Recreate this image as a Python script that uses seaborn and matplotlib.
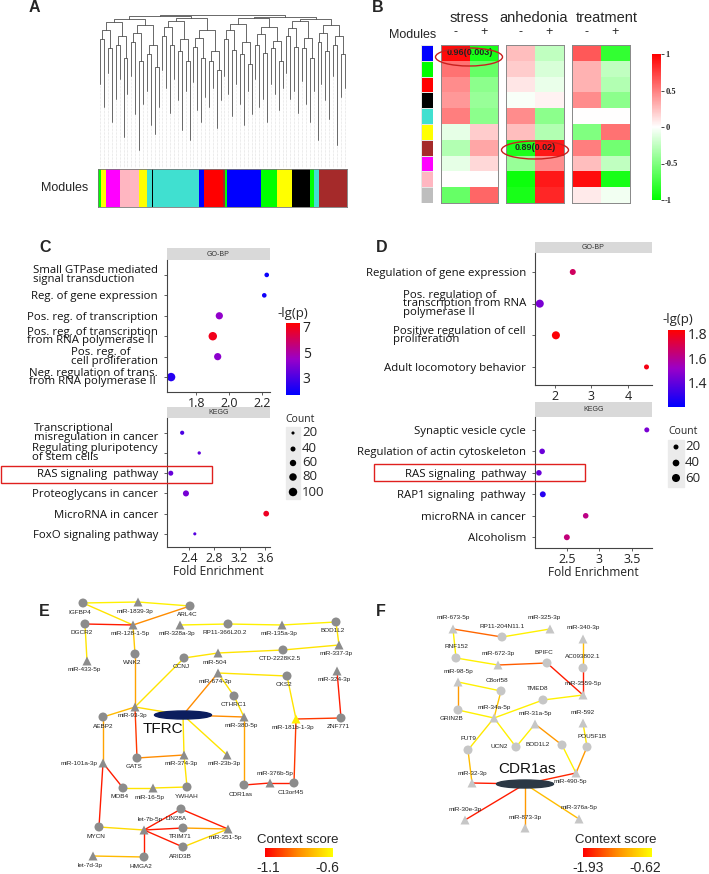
import numpy as np
import pandas as pd
import seaborn as sns
import matplotlib.pyplot as plt
from matplotlib.colors import ListedColormap, LinearSegmentedColormap, Normalize
from matplotlib.patches import Ellipse, Rectangle
from matplotlib.cm import ScalarMappable

sns.set_theme(style="white")
plt.rcParams['font.family'] = ['Liberation Sans', 'DejaVu Sans']

# ---------------- A: gene dendrogram + module colours ----------------
leaf_heights = [0.55, 0.40, 0.62, 0.30, 0.45, 0.58, 0.20, 0.48, 0.60, 0.35, 0.12, 0.42,
                0.50, 0.28, 0.22, 0.40, 0.64, 0.52, 0.36, 0.58, 0.44, 0.25, 0.50, 0.18,
                0.56, 0.38, 0.30, 0.46, 0.40, 0.52, 0.26, 0.44, 0.60, 0.48, 0.34, 0.55,
                0.42, 0.28, 0.50, 0.35, 0.58, 0.40, 0.45, 0.30, 0.55, 0.48, 0.38, 0.52,
                0.62, 0.45, 0.50, 0.36, 0.57, 0.42, 0.30, 0.50, 0.18, 0.55, 0.44, 0.32,
                0.60, 0.15, 0.46, 0.52]
merge_l1 = [0.84, 0.78, 0.80, 0.72, 0.82, 0.70, 0.74, 0.66, 0.86, 0.80, 0.76, 0.70,
            0.79, 0.72, 0.70, 0.64, 0.84, 0.77, 0.74, 0.68, 0.80, 0.75, 0.78, 0.70,
            0.86, 0.79, 0.78, 0.72, 0.82, 0.76, 0.80, 0.74]
merge_l2 = [0.90, 0.86, 0.88, 0.80, 0.92, 0.84, 0.85, 0.76, 0.90, 0.82, 0.87, 0.83,
            0.91, 0.85, 0.88, 0.86]
merge_l3 = [0.95, 0.93, 0.96, 0.90, 0.94, 0.92, 0.955, 0.93]
merge_l4 = [0.97, 0.98, 0.975, 0.97]
merge_l5 = [0.99, 0.985]
merge_l6 = [1.0]

module_hex = {'green': '#00ff00', 'yellow': '#ffff00', 'magenta': '#ff00ff', 'pink': '#ffb6c1',
              'black': '#000000', 'turquoise': '#40e0d0', 'blue': '#0000ff', 'red': '#ff0000',
              'brown': '#a52a2a', 'grey': '#bebebe'}
bar_modules = ['green', 'yellow', 'magenta', 'pink', 'black', 'yellow', 'turquoise', 'black',
               'turquoise', 'blue', 'red', 'brown', 'green', 'blue', 'green', 'yellow', 'black',
               'green', 'turquoise', 'brown']
bar_genes = [7, 10, 28, 37, 1, 15, 10, 2, 93, 10, 37, 5, 5, 67, 33, 30, 35, 8, 10, 57]

# ---------------- B: module-trait correlations ----------------
b_modules = ['blue', 'green', 'red', 'black', 'turquoise', 'yellow', 'brown', 'magenta', 'pink', 'grey']
stress_neg = [0.96, 0.55, 0.45, 0.40, 0.50, -0.10, -0.30, -0.10, 0.0, -0.60]
stress_pos = [-0.90, -0.60, -0.45, -0.40, -0.45, 0.20, 0.35, 0.15, 0.0, 0.60]
anhedonia_neg = [0.25, 0.20, 0.10, -0.03, 0.45, 0.25, -0.89, -0.40, -0.95, -0.90]
anhedonia_pos = [-0.25, -0.15, -0.08, 0.05, -0.45, -0.30, 0.90, 0.45, 0.90, 0.85]
treatment_neg = [0.65, 0.30, 0.30, 0.45, 0.0, -0.50, 0.50, 0.25, 0.95, 0.08]
treatment_pos = [-0.80, -0.25, -0.30, -0.45, 0.0, 0.55, -0.55, -0.25, -0.90, -0.05]

# ---------------- C / D: enrichment ----------------
c_go_terms = ['Small GTPase mediated\nsignal transduction', 'Reg. of gene expression',
              'Pos. reg. of transcription', 'Pos. reg. of transcription\nfrom RNA polymerase II',
              'Pos. reg. of\ncell proliferation', 'Neg. regulation of trans.\nfrom RNA polymerase II']
c_go_fold = [2.23, 2.215, 1.94, 1.90, 1.93, 1.645]
c_go_lgp = [1.8, 1.9, 4.3, 6.9, 4.2, 2.3]
c_go_count = [35, 35, 75, 170, 75, 100]
c_kegg_terms = ['Transcriptional\nmisregulation in cancer', 'Regulating pluripotency\nof stem cells',
                'RAS signaling  pathway', 'Proteoglycans in cancer', 'MicroRNA in cancer',
                'FoxO signaling pathway']
c_kegg_fold = [2.29, 2.56, 2.11, 2.35, 3.62, 2.49]
c_kegg_lgp = [3.0, 3.4, 3.5, 3.8, 6.8, 3.2]
c_kegg_count = [30, 22, 40, 55, 50, 20]

d_go_terms = ['Regulation of gene expression', 'Pos. regulation of\ntranscription from RNA\npolymerase II',
              'Positive regulation of cell\nproliferation', 'Adult locomotory behavior']
d_go_fold = [2.49, 1.59, 2.03, 4.50]
d_go_lgp = [1.68, 1.45, 1.82, 1.80]
d_go_count = [31, 138, 86, 11]
d_kegg_terms = ['Synaptic vesicle cycle', 'Regulation of actin cytoskeleton', 'RAS signaling  pathway',
                'RAP1 signaling  pathway', 'microRNA in cancer', 'Alcoholism']
d_kegg_fold = [3.73, 2.12, 2.07, 2.13, 2.79, 2.50]
d_kegg_lgp = [1.45, 1.42, 1.42, 1.28, 1.62, 1.64]
d_kegg_count = [5, 26, 26, 30, 26, 30]

# ---------------- E: TFRC network (layout units = pixels) ----------------
e_names = ['IGFBP4', 'miR-1839-3p', 'ARL4C', 'DGCR2', 'miR-128-1-5p', 'miR-328a-3p', 'RP11-366L20.2',
           'miR-135a-3p', 'BOD1L2', 'miR-337-3p', 'WNK2', 'miR-433-5p', 'CCNJ', 'miR-504',
           'CTD-2228K2.5', 'miR-674-3p', 'CKS2', 'miR-324-3p', 'CTHRC1', 'miR-93-3p', 'AEBP2',
           'TFRC', 'miR-380-5p', 'miR-181b-1-3p', 'ZNF771', 'GATS', 'miR-374-3p', 'miR-23b-3p',
           'miR-101a-3p', 'MOB4', 'miR-16-5p', 'YWHAH', 'CDR1as', 'miR-376b-5p', 'C13orf45',
           'LIN28A', 'let-7b-5p', 'MYCN', 'TRIM71', 'miR-351-5p', 'ARID3B', 'let-7d-3p', 'HMGA2']
e_x = [83, 138, 190, 85, 133, 180, 228, 282, 336, 339, 135, 87, 184, 218, 283, 218, 287, 337,
       234, 135, 103, 183, 244, 296, 341, 137, 184, 227, 103, 123, 153, 187, 244, 270, 294,
       181, 144, 99, 183, 228, 183, 93, 144]
e_y = [13, 12, 16, 34, 35, 35, 34, 35, 32, 55, 64, 71, 68, 63, 60, 83, 86, 81, 106, 117, 127,
       125, 127, 129, 128, 168, 165, 165, 173, 198, 198, 197, 195, 193, 193, 219, 240, 237,
       238, 239, 257, 266, 267]
e_kind = ['gene', 'mir', 'gene', 'gene', 'mir', 'mir', 'gene', 'mir', 'gene', 'mir', 'gene', 'mir',
          'gene', 'mir', 'gene', 'mir', 'gene', 'mir', 'gene', 'mir', 'gene', 'hub', 'mir', 'mir',
          'gene', 'gene', 'mir', 'mir', 'mir', 'gene', 'mir', 'gene', 'gene', 'mir', 'gene', 'gene',
          'mir', 'gene', 'gene', 'mir', 'gene', 'mir', 'gene']
e_src = ['IGFBP4', 'miR-1839-3p', 'IGFBP4', 'ARL4C', 'DGCR2', 'DGCR2', 'miR-128-1-5p', 'WNK2',
         'miR-328a-3p', 'RP11-366L20.2', 'miR-135a-3p', 'BOD1L2', 'miR-337-3p', 'CTD-2228K2.5',
         'miR-504', 'CCNJ', 'miR-93-3p', 'miR-93-3p', 'miR-93-3p', 'TFRC', 'miR-674-3p',
         'miR-674-3p', 'CTHRC1', 'TFRC', 'TFRC', 'TFRC', 'CKS2', 'miR-181b-1-3p', 'ZNF771',
         'miR-181b-1-3p', 'GATS', 'miR-374-3p', 'miR-380-5p', 'CDR1as', 'miR-376b-5p', 'AEBP2',
         'miR-101a-3p', 'miR-101a-3p', 'MOB4', 'miR-16-5p', 'MYCN', 'let-7b-5p', 'let-7b-5p',
         'let-7b-5p', 'let-7b-5p', 'LIN28A', 'TRIM71', 'ARID3B', 'let-7d-3p']
e_dst = ['miR-1839-3p', 'ARL4C', 'miR-128-1-5p', 'miR-128-1-5p', 'miR-128-1-5p', 'miR-433-5p',
         'WNK2', 'miR-93-3p', 'RP11-366L20.2', 'miR-135a-3p', 'BOD1L2', 'miR-337-3p',
         'CTD-2228K2.5', 'miR-504', 'CCNJ', 'miR-93-3p', 'AEBP2', 'GATS', 'TFRC', 'miR-674-3p',
         'CKS2', 'CTHRC1', 'miR-380-5p', 'miR-380-5p', 'miR-374-3p', 'miR-23b-3p',
         'miR-181b-1-3p', 'ZNF771', 'miR-324-3p', 'C13orf45', 'miR-374-3p', 'YWHAH', 'CDR1as',
         'miR-376b-5p', 'C13orf45', 'miR-101a-3p', 'MOB4', 'MYCN', 'miR-16-5p', 'YWHAH',
         'let-7b-5p', 'LIN28A', 'TRIM71', 'ARID3B', 'HMGA2', 'miR-351-5p', 'miR-351-5p',
         'miR-351-5p', 'HMGA2']
e_score = [-0.63, -0.63, -0.66, -0.85, -1.05, -0.66, -0.72, -0.80, -0.63, -0.63, -0.63, -0.66,
           -0.66, -0.66, -0.66, -0.66, -0.75, -1.00, -0.68, -0.85, -0.66, -0.66, -0.66, -0.85,
           -0.66, -0.66, -0.66, -1.00, -1.05, -1.00, -0.85, -0.66, -0.80, -1.05, -1.05, -0.80,
           -1.05, -1.05, -0.66, -0.66, -0.68, -1.05, -1.05, -1.05, -1.05, -1.05, -0.80, -0.68,
           -0.75]

# ---------------- F: CDR1as network ----------------
f_names = ['miR-673-5p', 'RP11-204N11.1', 'miR-325-3p', 'miR-340-3p', 'RNF152', 'miR-672-3p',
           'BPIFC', 'AC093802.1', 'miR-98-5p', 'C8orf58', 'TMED8', 'miR-3559-5p', 'GRIN2B',
           'miR-34a-5p', 'miR-31a-5p', 'miR-592', 'FUT9', 'UCN2', 'BOD1L2', 'POU5F1B', 'miR-32-3p',
           'CDR1as', 'miR-490-5p', 'miR-30e-3p', 'miR-873-3p', 'miR-376a-5p']
f_x = [98, 147, 195, 228, 101, 143, 192, 228, 103, 146, 188, 228, 103, 139, 180, 228, 113, 161,
       207, 232, 117, 170, 221, 110, 170, 224]
f_y = [39, 47, 39, 49, 68, 75, 73, 78, 92, 101, 110, 105, 120, 128, 134, 133, 160, 157, 155,
       157, 193, 194, 183, 230, 238, 229]
f_kind = ['mir', 'gene', 'mir', 'mir', 'gene', 'mir', 'gene', 'gene', 'mir', 'gene', 'gene', 'mir',
          'gene', 'mir', 'mir', 'mir', 'gene', 'gene', 'gene', 'gene', 'mir', 'hub', 'mir', 'mir',
          'mir', 'mir']
f_src = ['miR-673-5p', 'RP11-204N11.1', 'miR-673-5p', 'RNF152', 'miR-672-3p', 'BPIFC', 'miR-340-3p',
         'AC093802.1', 'miR-98-5p', 'miR-98-5p', 'C8orf58', 'GRIN2B', 'miR-34a-5p', 'TMED8',
         'miR-34a-5p', 'miR-34a-5p', 'UCN2', 'miR-31a-5p', 'miR-592', 'BOD1L2', 'POU5F1B', 'FUT9',
         'miR-32-3p', 'CDR1as', 'CDR1as', 'CDR1as', 'CDR1as']
f_dst = ['RP11-204N11.1', 'miR-325-3p', 'RNF152', 'miR-672-3p', 'BPIFC', 'miR-3559-5p',
         'AC093802.1', 'miR-3559-5p', 'C8orf58', 'GRIN2B', 'miR-34a-5p', 'miR-34a-5p', 'TMED8',
         'miR-3559-5p', 'FUT9', 'UCN2', 'miR-31a-5p', 'BOD1L2', 'POU5F1B', 'miR-490-5p',
         'miR-490-5p', 'miR-32-3p', 'CDR1as', 'miR-490-5p', 'miR-30e-3p', 'miR-873-3p',
         'miR-376a-5p']
f_score = [-1.45, -0.70, -0.70, -0.70, -1.50, -1.80, -1.00, -1.80, -0.70, -1.20, -0.95, -0.70,
           -0.70, -0.70, -0.75, -0.70, -0.70, -1.20, -0.75, -0.70, -1.20, -1.00, -1.80, -1.75,
           -1.80, -1.20, -1.00]

# ================= drawing =================
W, H = 709, 874
fig = plt.figure(figsize=(W / 100, H / 100), dpi=100)


def px_axes(x0, y0, x1, y1):
    return fig.add_axes([x0 / W, 1 - y1 / H, (x1 - x0) / W, (y1 - y0) / H])


def frame(ax, color='#777777', lw=0.6):
    for s in ax.spines.values():
        s.set_visible(True)
        s.set_color(color)
        s.set_linewidth(lw)


mod_names = list(module_hex)
mod_cmap = ListedColormap([module_hex[m] for m in mod_names])

# A: dendrogram
ax = px_axes(98, 13, 347, 168)
nodes = list(enumerate(leaf_heights))
for x, h in nodes:
    ax.plot([x, x], [0, h], color='#c4c4c4', lw=0.4, ls=(0, (1, 1.5)))
for level in [merge_l1, merge_l2, merge_l3, merge_l4, merge_l5, merge_l6]:
    nxt = []
    for k, mh in enumerate(level):
        (x1, h1), (x2, h2) = nodes[2 * k], nodes[2 * k + 1]
        ax.plot([x1, x1, x2, x2], [h1, mh, mh, h2], color='#505050', lw=0.6)
        nxt.append(((x1 + x2) / 2, mh))
    nodes = nxt
ax.set_xlim(-0.6, len(leaf_heights) - 0.4)
ax.set_ylim(0, 1.01)
ax.axis('off')

ax = px_axes(98, 169, 347, 207)
codes = np.repeat([mod_names.index(m) for m in bar_modules], bar_genes)[None, :]
sns.heatmap(codes, cmap=mod_cmap, vmin=-0.5, vmax=len(mod_names) - 0.5, cbar=False,
            xticklabels=False, yticklabels=False, ax=ax)
frame(ax)

# B: module-trait heatmaps
ax = px_axes(421, 45, 433, 203)
sns.heatmap(np.array([mod_names.index(m) for m in b_modules])[:, None], cmap=mod_cmap,
            vmin=-0.5, vmax=len(mod_names) - 0.5, cbar=False, linewidths=0.6, linecolor='#e6e6e6',
            xticklabels=False, yticklabels=False, ax=ax)

b_cmap = LinearSegmentedColormap.from_list('gwr', ['#00ff00', '#ffffff', '#ff0000'])
blocks = [(441, 498, stress_neg, stress_pos), (506, 564, anhedonia_neg, anhedonia_pos),
          (572, 630, treatment_neg, treatment_pos)]
cax_b = px_axes(652, 54, 661, 200)
block_axes = []
for i, (x0, x1, neg, pos) in enumerate(blocks):
    ax = px_axes(x0, 45, x1, 203)
    last = i == len(blocks) - 1
    sns.heatmap(np.column_stack([neg, pos]), cmap=b_cmap, vmin=-1, vmax=1, cbar=last,
                cbar_ax=cax_b if last else None, xticklabels=False, yticklabels=False, ax=ax)
    frame(ax, '#888888', 0.7)
    block_axes.append(ax)
block_axes[0].text(1, 0.5, '0.96(0.003)', ha='center', va='center', fontsize=6.5,
                   fontweight='bold', color='#222222')
block_axes[1].text(1, 6.5, '0.89(0.02)', ha='center', va='center', fontsize=6.5,
                   fontweight='bold', color='#222222')
cax_b.set_yticks([-1, -0.5, 0, 0.5, 1])
cax_b.set_yticklabels(['-1', '-0.5', '0', '0.5', '1'], fontsize=6, fontweight='bold',
                      family='Liberation Serif')
cax_b.tick_params(axis='y', right=True, length=2, width=0.6, pad=1)

# C / D: enrichment dot plots
lgp_cmap = LinearSegmentedColormap.from_list('lgp', ['#0000ff', '#9a00c8', '#ff0000'])
OS = 'Open Sans'


def strip(x0, y0, x1, y1, label):
    ax = px_axes(x0, y0, x1, y1)
    ax.set_facecolor('#d9d9d9')
    ax.set_xticks([])
    ax.set_yticks([])
    for s in ax.spines.values():
        s.set_visible(False)
    ax.text(0.5, 0.5, label, ha='center', va='center', fontsize=5, color='#333333',
            transform=ax.transAxes)


def dots(rect, terms, fold, lgp, count, hue_norm, sizes, size_norm, xlim, xticks, ypad,
         xlabel=None):
    ax = px_axes(*rect)
    df = pd.DataFrame({'row': np.arange(len(terms)), 'fold': fold, 'lgp': lgp, 'count': count})
    sns.scatterplot(data=df, x='fold', y='row', hue='lgp', hue_norm=hue_norm, palette=lgp_cmap,
                    size='count', sizes=sizes, size_norm=size_norm, linewidth=0, legend=False,
                    ax=ax)
    ax.set_xlim(*xlim)
    ax.set_ylim(len(terms) - 1 + ypad[1], -ypad[0])
    ax.set_yticks(df['row'], terms)
    ax.set_xticks([float(t) for t in xticks], xticks)
    ax.set_xlabel(xlabel if xlabel else '', fontsize=8.6, family=OS, labelpad=0, color='#222222')
    ax.set_ylabel('')
    for s in ['top', 'right']:
        ax.spines[s].set_visible(False)
    for s in ['left', 'bottom']:
        ax.spines[s].set_color('#444444')
        ax.spines[s].set_linewidth(0.8)
    ax.tick_params(axis='x', bottom=True, length=2.5, width=0.6, color='#444444', pad=1)
    ax.tick_params(axis='y', left=True, length=2.5, width=0.6, color='#444444', pad=4)
    for t in ax.get_yticklabels():
        t.set_family(OS)
        t.set_fontsize(8.2)
        t.set_multialignment('left')
        t.set_linespacing(0.7)
        t.set_color('#111111')
    for t in ax.get_xticklabels():
        t.set_family(OS)
        t.set_fontsize(9)
        t.set_color('#222222')
    return ax


def lgp_bar(rect, vmin, vmax, ticks):
    cax = px_axes(*rect)
    cb = fig.colorbar(ScalarMappable(Normalize(vmin, vmax), lgp_cmap), cax=cax)
    cb.set_ticks(ticks)
    cb.outline.set_visible(False)
    cax.tick_params(axis='y', direction='in', left=True, right=True, length=3, width=0.8,
                    color='white', labelsize=10, labelcolor='#222222', pad=2)
    for t in cax.get_yticklabels():
        t.set_family(OS)


c_hue = (1.6, 7.3)
c_sizes, c_snorm = (5, 37), (20, 100)
strip(167, 248, 270, 260, 'GO-BP')
dots((167, 260, 270, 392), c_go_terms, c_go_fold, c_go_lgp, c_go_count, c_hue, c_sizes, c_snorm,
     (1.62, 2.25), ['1.8', '2.0', '2.2'], (0.73, 0.73))
strip(167, 407, 270, 418, 'KEGG')
dots((167, 418, 270, 547), c_kegg_terms, c_kegg_fold, c_kegg_lgp, c_kegg_count, c_hue, c_sizes,
     c_snorm, (2.05, 3.68), ['2.4', '2.8', '3.2', '3.6'], (0.73, 0.65), 'Fold Enrichment')
lgp_bar((286, 323, 300, 395), c_hue[0], c_hue[1], [3, 5, 7])

d_hue = (1.2, 1.83)
d_sizes, d_snorm = (13, 33.6), (20, 60)
strip(535, 242, 652, 253, 'GO-BP')
dots((535, 253, 652, 385), d_go_terms, d_go_fold, d_go_lgp, d_go_count, d_hue, d_sizes, d_snorm,
     (1.46, 4.65), ['2', '3', '4'], (0.6, 0.57))
strip(535, 402, 652, 417, 'KEGG')
dots((535, 417, 652, 548), d_kegg_terms, d_kegg_fold, d_kegg_lgp, d_kegg_count, d_hue, d_sizes,
     d_snorm, (2.01, 3.81), ['2.5', '3', '3.5'], (0.6, 0.5), 'Fold Enrichment')
lgp_bar((668, 330, 685, 407), d_hue[0], d_hue[1], [1.4, 1.6, 1.8])

# E / F: networks
ctx_cmap = LinearSegmentedColormap.from_list('ctx', ['#ff0000', '#ff8c00', '#ffff00'])


def network(rect, names, xs, ys, kinds, src, dst, score, norm, node_fill, hub_color,
            label_off, default_off, highlight=()):
    ax = px_axes(*rect)
    pos = {n: (x, y) for n, x, y in zip(names, xs, ys)}
    for a, b, s in zip(src, dst, score):
        ax.plot([pos[a][0], pos[b][0]], [pos[a][1], pos[b][1]], color=ctx_cmap(norm(s)),
                lw=1.0, zorder=1)
    df = pd.DataFrame({'name': names, 'x': xs, 'y': ys, 'kind': kinds})
    df['fill'] = np.where(df['name'].isin(highlight), 'hi', 'lo')
    nodes = df[df['kind'] != 'hub']
    sns.scatterplot(data=nodes, x='x', y='y', style='kind', markers={'gene': 'o', 'mir': '^'},
                    hue='fill', palette={'lo': node_fill, 'hi': '#ffee00'}, s=42, linewidth=0,
                    legend=False, ax=ax, zorder=3)
    ax.set_xlim(0, rect[2] - rect[0])
    ax.set_ylim(rect[3] - rect[1], 0)
    ax.axis('off')
    for _, r in df.iterrows():
        if r['kind'] == 'hub':
            ax.add_patch(Ellipse((r['x'], r['y']), 57, 8, color=hub_color, zorder=4))
        dx, dy = label_off.get(r['name'], default_off)
        big = r['kind'] == 'hub'
        ax.text(r['x'] + dx, r['y'] + dy, r['name'], ha='center', va='center',
                fontsize=11 if big else 4.6, color='#111111' if big else '#222222', zorder=5)
    return ax


e_off = {'TFRC': (-20, 14), 'miR-101a-3p': (-24, 0), 'miR-376b-5p': (5, -9), 'let-7b-5p': (6, -10),
         'LIN28A': (-5, 9), 'AEBP2': (0, 10), 'YWHAH': (0, 10), 'CTHRC1': (0, 9)}
network((0, 590, 355, 874), e_names, e_x, e_y, e_kind, e_src, e_dst, e_score, Normalize(-1.1, -0.6),
        '#8c8c8c', '#0b1d5e', e_off, (-3, 9), highlight=('miR-181b-1-3p',))
f_off = {'CDR1as': (2, -15), 'miR-325-3p': (-6, -12), 'GRIN2B': (-6, 9), 'UCN2': (-17, 0),
         'BOD1L2': (-24, 0), 'miR-490-5p': (-6, 9), 'POU5F1B': (5, -10), 'BPIFC': (-3, -10),
         'C8orf58': (-4, -11), 'TMED8': (-5, -11), 'miR-32-3p': (0, -10)}
network((355, 590, 709, 874), f_names, f_x, f_y, f_kind, f_src, f_dst, f_score,
        Normalize(-1.93, -0.62), '#c6c6c6', '#2b3845', f_off, (0, -11))

for rect, vmin, vmax in [((265, 848, 333, 857), -1.1, -0.6), ((583, 848, 652, 857), -1.93, -0.62)]:
    cax = px_axes(*rect)
    cb = fig.colorbar(ScalarMappable(Normalize(vmin, vmax), ctx_cmap), cax=cax,
                      orientation='horizontal')
    cb.set_ticks([])
    cb.outline.set_visible(False)

# ---------------- overlay: titles, labels, legends, highlights ----------------
ov = px_axes(0, 0, W, H)
ov.patch.set_alpha(0)

for letter, x, y in [('A', 34, 8), ('B', 378, 8), ('C', 45, 247), ('D', 382, 247),
                     ('E', 44, 612), ('F', 381, 611)]:
    ov.text(x, y, letter, fontsize=11.5, fontweight='bold', ha='center', va='center')

ov.text(65, 188, 'Modules', fontsize=9, ha='center', va='center')
ov.text(413, 35, 'Modules', fontsize=9, ha='center', va='center')
for name, x in [('stress', 469), ('anhedonia', 534), ('treatment', 607)]:
    ov.text(x, 18, name, fontsize=10.5, ha='center', va='center')
for x0, x1, _, _ in blocks:
    ov.text(x0 + (x1 - x0) * 0.25, 32, '-', fontsize=9, ha='center', va='center')
    ov.text(x0 + (x1 - x0) * 0.75, 32, '+', fontsize=9, ha='center', va='center')
for cx, cy in [(469, 57), (535, 150)]:
    ov.add_patch(Ellipse((cx, cy), 67, 18, fill=False, edgecolor='#c8201e', lw=1))

for x0, y0 in [(1, 466), (374, 464)]:
    ov.add_patch(Rectangle((x0, y0), 211, 17, fill=False, edgecolor='#e0201e', lw=1))

ov.text(293, 314, '-lg(p)', fontsize=9.5, family=OS, ha='center', va='center')
ov.text(678, 320, '-lg(p)', fontsize=9.5, family=OS, ha='center', va='center')

for (bx0, by0, bx1, by1), dx, lx, ys, counts, sizes, snorm, ty, tx in [
        ((286, 427, 300, 499), 293, 302, [433, 449, 463, 477, 492], [20, 40, 60, 80, 100],
         c_sizes, c_snorm, 420, 285),
        ((668, 440, 684, 487), 676, 685, [447, 463, 478], [20, 40, 60], d_sizes, d_snorm, 432, 668)]:
    ov.add_patch(Rectangle((bx0, by0), bx1 - bx0, by1 - by0, color='#ebebeb', zorder=0))
    sns.scatterplot(x=[dx] * len(ys), y=ys, size=counts, sizes=sizes, size_norm=snorm,
                    color='black', linewidth=0, legend=False, ax=ov)
    for y, c in zip(ys, counts):
        ov.text(lx, y, str(c), fontsize=9.5, family=OS, ha='left', va='center')
    ov.text(tx, ty, 'Count', fontsize=7.5, family=OS, ha='left', va='center')

ov.set_xlim(0, W)
ov.set_ylim(H, 0)
ov.axis('off')

ov.text(257, 840, 'Context score', fontsize=9.5, ha='left', va='center')
ov.text(268, 868, '-1.1', fontsize=10, ha='center', va='center')
ov.text(327, 868, '-0.6', fontsize=10, ha='center', va='center')
ov.text(575, 840, 'Context score', fontsize=9.5, ha='left', va='center')
ov.text(588, 868, '-1.93', fontsize=10, ha='center', va='center')
ov.text(645, 868, '-0.62', fontsize=10, ha='center', va='center')

fig.savefig('out.png', dpi=100)
